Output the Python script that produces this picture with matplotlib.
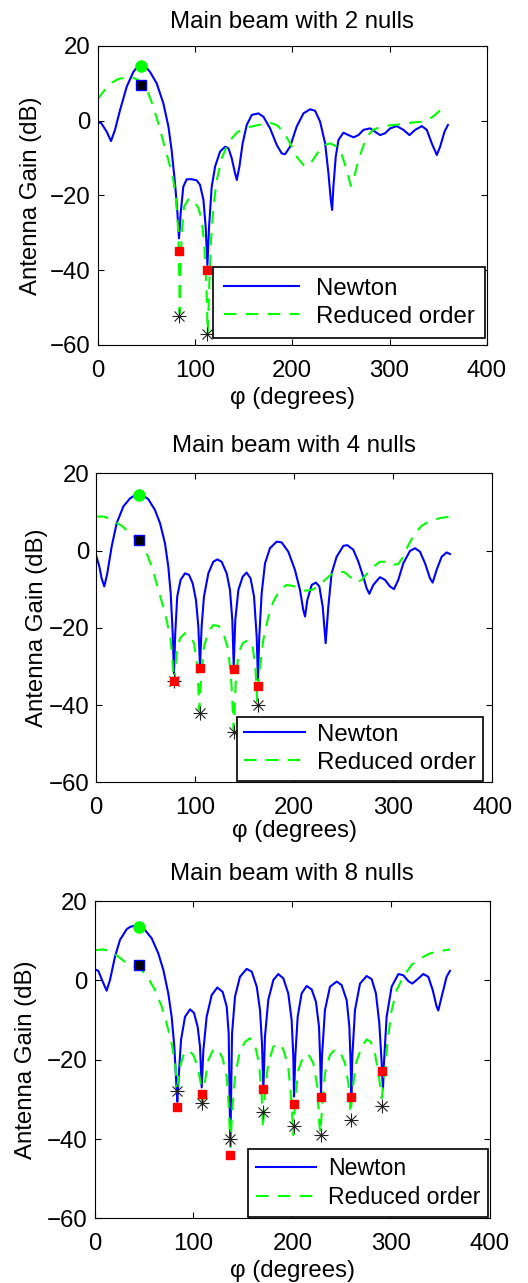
import matplotlib
matplotlib.use('Agg')
import matplotlib.pyplot as plt

plt.rcParams['font.family'] = ['Liberation Sans', 'DejaVu Sans']

# ---- panel 1: 2 nulls ----
newton1_phi = [0, 3.4, 9.3, 13.7, 17.8, 23, 29.8, 36.7, 40, 43.5, 47, 50, 53.8, 60.7, 67.5, 72.7, 76, 79.5, 82, 83.6,
               85.3, 88, 91.5, 96.7, 101.8, 105.2, 108.7, 111, 112.8, 114.5, 117.2, 120.7, 125.8, 131, 134.4,
               137.8, 141.2, 143, 145.7, 149, 153.2, 158.4, 165.2, 170.4, 177.2, 184, 189.2, 192.6, 197.8,
               204.6, 211.5, 218.3, 223.5, 228.6, 233.8, 237.2, 239.6, 241, 242.3, 244.7, 247.5, 252.6, 257.8,
               263, 268, 273.2, 280, 285.2, 290.3, 295.5, 300.6, 307.5, 314.3, 320.5, 326.3, 333.2, 338.3,
               343.4, 348.6, 352, 356.5, 360]
newton1_gain = [-0.6, -0.6, -3, -5.5, -2.5, 2.8, 9, 13, 14.1, 14.6, 14.65, 14.1, 13, 9.9, 4.6, -1.6, -7.9, -16.8, -24.8, -31.5,
                -24.8, -17.7, -15.7, -15.7, -16, -17.2, -21.2, -28.4, -38.6, -28.4, -17.7, -12.3, -8.3, -7, -7.4,
                -10.1, -14.1, -15.9, -12.3, -6.1, -1.2, 1.5, 1.9, 1, -2.1, -6.5, -8.8, -9, -7,
                -1.6, 1.9, 3, 2.6, -0.3, -6.1, -14.1, -21.2, -23.9, -17.7, -9.7, -5.2, -3.25, -3.9,
                -4.5, -3.9, -2.5, -2.1, -3, -3.9, -3.4, -2.1, -1.5, -2.5, -3.9, -2.5, -1.5, -2.5,
                -6.1, -9.2, -7, -3, -1.2]
reduced1_phi = [0, 5.8, 12.7, 21.3, 29.8, 36.7, 41.8, 47, 52, 57.2, 62.4, 67.5, 72.7, 77.8, 80.5, 83, 84, 84.3,
                84.8, 86.4, 88.8, 93.2, 98.4, 103.5, 107, 109.7, 112, 113.1, 114.8, 116.5, 119, 122.4, 127.5,
                132.6, 137.8, 143, 149.8, 160, 170.4, 177.2, 184, 191, 197.8, 204.6, 211.5, 215, 220, 227,
                233.8, 239, 245.8, 251, 256, 260.2, 263, 266.3, 271.5, 276.6, 283.5, 294, 304, 314.3, 324.6,
                335, 343.4, 348.6, 353.7, 357]
reduced1_gain = [5.7, 7.7, 9.9, 11.1, 11.5, 11.4, 10.8, 9.5, 7.3, 3.7, -0.8, -5.7, -10.6, -15.9, -21.2, -30.2, -43.5, -51.5,
                 -43.5, -30.2, -23, -21.1, -21.2, -23.4, -26.6, -33.7, -46.2, -56.9, -43.5, -31.9, -23, -15.9, -10.1,
                 -7, -4.8, -3.25, -2.1, -1.5, -0.9, -0.6, -1.2, -3, -6.1, -9.7, -11.9, -12.3, -11, -8.3,
                 -6.5, -6.1, -7, -9.2, -13.2, -17.5, -15.9, -12.3, -7.9, -4.3, -2.4, -1.5, -1.2, -0.9, -0.5,
                 -0.3, 0.8, 1.9, 3.2, 4.2]
beam1 = (45, 14.5)
beam1_red = (45, 9.4)
newton1_null_phi = [84, 112.8]
newton1_null_gain = [-34.9, -40]
reduced1_null_phi = [84, 112.8]
reduced1_null_gain = [-52.2, -57.1]

# ---- panel 2: 4 nulls ----
newton2_phi = [0, 3.4, 5.7, 8.4, 11.4, 15.8, 20.9, 27.6, 34.3, 38, 41, 43.5, 46, 49, 52.8, 59.5, 64.6, 69.6, 73, 75.4, 77.4,
               78.7, 80, 82, 85.4, 89.8, 93.9, 97.6, 100.9, 103.3, 105, 106.6, 109, 113.4, 118.4, 122.5, 126.8,
               131.9, 135.2, 137.6, 139, 140.6, 143.7, 148, 152, 156, 159.5, 162.2, 163.5, 164.8, 167.2, 170.6,
               175.6, 182.3, 187.4, 194.1, 200.8, 205.9, 209.2, 211, 213.3, 217.7, 222, 225.4, 228.8, 231.8,
               234.5, 237.8, 242.9, 249.6, 253.6, 259.7, 264.8, 269.8, 273.2, 275.9, 279.9, 286.6, 291.7,
               296.7, 300.8, 305.1, 310.2, 316.9, 322, 327, 332.1, 337.1, 339.8, 343.8, 348.9, 353.9, 357.3]
newton2_gain = [-1.1, -4.2, -7.2, -9.3, -5.9, 1, 7.1, 11.4, 13.5, 14.1, 14.4, 14.5, 14.4, 14, 13.3, 10.5, 7.1, 1.9, -4.2, -11.1, -21.4,
                -31.8, -21.4, -11.9, -7.6, -5.9, -6.3, -8.5, -12.8, -19.7, -30, -19.7, -11.9, -5.9, -2.9, -2.3, -2.9,
                -5.9, -10.2, -18, -30, -18, -10.2, -6.8, -5.7, -7.2, -11.9, -22.3, -33.5, -22.3, -11.1, -3.3,
                0.6, 2.3, 2.1, -0.3, -5, -10.2, -15.4, -17.1, -12.8, -8.9, -8.3, -9.3, -14.5, -24,
                -14.5, -5.9, -1.6, 1.2, 1.4, 0.2, -2.9, -6.8, -9.8, -11.2, -8.9, -6.9, -7.6,
                -9.3, -10, -7.6, -3.3, -0.1, 0.6, -0.3, -3.3, -7.2, -8.3, -5, -1.6, -0.5, -0.9]
reduced2_phi = [0, 7.4, 12.4, 19.2, 25.9, 32.6, 39.4, 46.1, 51.1, 56.2, 61.2, 66.3, 71.3, 75.4, 77.4, 79, 81.4,
                84.8, 89.8, 94.9, 98.9, 102.3, 104.3, 106.3, 109, 113.4, 118.4, 123.5, 128.5, 133.6, 136.9, 139,
                141, 143.7, 148, 153.7, 158.1, 160.8, 162.8, 164.8, 168.9, 174, 179, 185.7, 192.4, 199.2, 205.9,
                211, 217.7, 224.4, 231.1, 237.8, 244.6, 251.3, 258, 263.1, 268.1, 273.2, 279.9, 286.6, 293.4,
                300.1, 305.1, 310.2, 315.2, 322, 328.7, 337.1, 347.2, 357.3]
reduced2_gain = [8.8, 8.8, 8.4, 7.5, 6.4, 4.9, 3.4, 1.4, -0.7, -4.2, -8.5, -13.2, -18, -23.1, -29.2, -34.4, -26.6,
                 -22.7, -21.4, -21.9, -24, -30, -41.3, -31.8, -24.9, -21, -19.3, -19.5, -21.4, -25.7, -35.2, -46.4,
                 -34.4, -26.6, -24, -23.1, -24.9, -30, -39.1, -31.8, -23.1, -17.1, -13.2, -10.2, -8.9, -9.2, -9.8,
                 -10.4, -10.2, -9.3, -7.6, -6.1, -5.3, -5.7, -7.2, -8.3, -7.6, -6.1, -4.2, -2.9, -2.9,
                 -3.7, -3.5, -1.6, 1.4, 4.5, 6.4, 7.7, 8.4, 8.8]
beam2 = (43, 14.3)
beam2_red = (43, 2.7)
newton2_null_phi = [79, 105, 139.3, 163.8]
newton2_null_gain = [-33.8, -30.3, -30.7, -35]
reduced2_null_phi = [79, 105, 139.3, 163.8]
reduced2_null_gain = [-33.8, -42.1, -47, -40]

# ---- panel 3: 8 nulls ----
newton3_phi = [0, 3.7, 8.1, 12.1, 15.5, 20.6, 25.6, 32.4, 36, 39.1, 42, 45.2, 48, 50.9, 57.7, 64.4, 69.5, 74.5, 77.9, 80.6,
               82.6, 83.6, 85, 87.4, 91.4, 96.5, 100.5, 104.2, 106.6, 108.3, 110, 113.3, 118.4, 124.1, 129.5,
               133.6, 135.6, 137.3, 139, 142, 147, 153.8, 158.9, 164, 167.3, 169.3, 170.7, 172.3, 175.7, 180.8,
               185.8, 190.9, 195.9, 199.3, 201, 201.7, 203, 205.4, 209.4, 214.5, 219.6, 223.9, 227, 228.3, 229,
               230, 233, 238.1, 244.9, 249.9, 255, 257.7, 259, 259.7, 260.7, 263.4, 268.5, 275.2, 280.3, 284.6,
               288, 290.4, 291.7, 292.7, 295.4, 300.5, 307.3, 312.3, 317.4, 321.4, 325.8, 332.5, 337.6, 342,
               346, 347.7, 351.1, 356.1, 359.5]
newton3_gain = [2.8, 2.4, -0.3, -2.6, 0.1, 6, 10.2, 12.9, 13.5, 13.7, 13.75, 13.5, 13.2, 12.7, 10.6, 6.8, 2.6, -3.3, -9.2, -16.7,
                -26, -30.6, -24.3, -15, -9.2, -7.3, -8.2, -11.7, -16.7, -27, -17.6, -9.2, -3.7, -1.8, -2.9,
                -6.6, -13.4, -41.9, -13.4, -4.1, 0.9, 2.9, 2.2, -1.6, -7.5, -15.9, -27.6, -14.2, -4.9, 0.1,
                1.6, 0.5, -3.3, -10, -19.2, -29.3, -19.2, -9.2, -3.3, -1.4, -2.3, -5.4, -11.7, -20.9, -28.5,
                -19.2, -7.5, -1.6, -0.3, -1.2, -5, -11.7, -20.9, -28.5, -19.2, -7.5, -0.8, 1.1, 0.3, -3.3,
                -10.8, -20.9, -27.5, -20.9, -9.2, -1.6, 1.6, 1.3, -0.2, -0.8, 0.1, 1.6, 0.9, -2.4,
                -6.6, -7.6, -4.1, 0.9, 2.4]
reduced3_phi = [0, 8.8, 15.5, 23.9, 32.4, 40.8, 47.6, 54.3, 61, 67.8, 72.8, 77.9, 81.3, 83.6, 86.3, 90.4, 94.8,
                99.8, 104.2, 107.3, 108.9, 111.3, 115, 120.1, 125.1, 129.5, 133.6, 135.9, 137.3, 139, 142, 146.4,
                152.1, 157.2, 162.2, 166.3, 169, 170.3, 172.3, 175.7, 180.8, 185.8, 190.9, 195.9, 199.3, 201,
                203, 206.1, 211.1, 216.2, 221.2, 225.3, 227.3, 228.3, 230, 233, 238.1, 243.2, 248.2, 253.3,
                256.7, 259, 261, 264.4, 270.2, 275.2, 279.3, 283.6, 287.7, 290.4, 292.7, 296.1, 300.5, 305.6,
                312.3, 320.7, 329.2, 339.3, 349.4, 359.5]
reduced3_gain = [7.6, 7.8, 7.4, 6, 4.3, 3.4, 2.6, 0.5, -2.4, -6.6, -10.8, -15.9, -20.9, -26.8, -21.8, -18.4, -17.6,
                 -18.8, -21.8, -26, -32.7, -26, -20.1, -17.4, -17.4, -19.7, -24.3, -32.7, -41.9, -33.5, -24.3, -18.4,
                 -15.5, -14.6, -16.3, -20.9, -29.3, -37.3, -27.6, -20.9, -16.7, -15.9, -17.4, -21.8, -31, -39,
                 -29.3, -22.6, -19.2, -18.6, -20.9, -26.8, -36, -38.5, -32.7, -23.4, -18.8, -17.4, -18, -20.9,
                 -26, -33.5, -27.6, -20.9, -16.7, -14.9, -15.5, -18.4, -24.3, -29.7, -25.1, -15.9, -7.5, -2.4,
                 0.9, 3.9, 5.5, 6.8, 7.4, 7.8]
beam3 = (45.2, 13.5)
beam3_red = (44.5, 3.8)
newton3_null_phi = [83.6, 108.6, 137.3, 170.7, 201.3, 228.7, 259.4, 290.4]
newton3_null_gain = [-31.9, -28.6, -44, -27.3, -31.2, -29.4, -29.4, -22.8]
reduced3_null_phi = [83.6, 108.6, 137.3, 170.7, 201.3, 228.7, 259.4, 290.4]
reduced3_null_gain = [-28, -30.8, -40.1, -33.3, -36.6, -39, -35.2, -31.7]

panels = [
    ('Main beam with 2 nulls', newton1_phi, newton1_gain, reduced1_phi, reduced1_gain, beam1, beam1_red,
     newton1_null_phi, newton1_null_gain, reduced1_null_phi, reduced1_null_gain),
    ('Main beam with 4 nulls', newton2_phi, newton2_gain, reduced2_phi, reduced2_gain, beam2, beam2_red,
     newton2_null_phi, newton2_null_gain, reduced2_null_phi, reduced2_null_gain),
    ('Main beam with 8 nulls', newton3_phi, newton3_gain, reduced3_phi, reduced3_gain, beam3, beam3_red,
     newton3_null_phi, newton3_null_gain, reduced3_null_phi, reduced3_null_gain),
]

# axes rectangles in figure fractions
rects = [[0.185, 0.7311, 0.737, 0.2333],
         [0.1818, 0.3903, 0.7506, 0.2408],
         [0.1793, 0.0504, 0.7487, 0.2473]]
# per panel: legend anchor, handle length, border pad, legend font, title pad, label pads
leg_anchor = [(0.996, 0.022), (0.977, 0.004), (0.996, 0.005)]
leg_handle = [3.1, 2.55, 2.6]
leg_textpad = [0.7, 0.5, 0.5]
leg_pad = [0.45, 0.3, 0.35]
leg_fs = [17.3, 17.3, 16.6]
title_pad = [13, 15, 15]
xpad = [4, 0.5, 4]
ypad = [5.5, 0.5, 7.5]

fs = 17.3
fig = plt.figure(figsize=(5.28, 12.83), dpi=100)

for i, p in enumerate(panels):
    title, nphi, ngain, rphi, rgain, beam, beam_red, nnp, nng, rnp, rng = p
    ax = fig.add_axes(rects[i])
    ax.plot(nphi, ngain, color='#0000ff', lw=1.5, label='Newton')
    ax.plot(rphi, rgain, color='#00ff00', lw=1.5, ls=(0, (6, 4.5)), label='Reduced order')
    # matlab-style asterisk: plus + cross
    ax.plot(rnp, rng, ls='none', marker='+', color='#222222', ms=10, markeredgewidth=0.8)
    ax.plot(rnp, rng, ls='none', marker='x', color='#222222', ms=7, markeredgewidth=0.8)
    ax.plot(nnp, nng, ls='none', marker='s', color='#ff0000', ms=5.5)
    ax.plot([beam_red[0]], [beam_red[1]], ls='none', marker='s', markerfacecolor='k',
            markeredgecolor='#0000ff', ms=6.5, markeredgewidth=1)
    ax.plot([beam[0]], [beam[1]], ls='none', marker='o', color='#00ff00', ms=8)

    ax.set_xlim(0, 400)
    ax.set_ylim(-60, 20)
    ax.set_xticks([0, 100, 200, 300, 400])
    ax.set_yticks([-60, -40, -20, 0, 20])
    ax.tick_params(direction='in', top=True, right=True, labelsize=fs, length=4, width=0.8)
    ax.tick_params(axis='x', pad=10.5)
    ax.tick_params(axis='y', pad=5)
    ax.set_title(title, fontsize=fs, pad=title_pad[i])
    ax.set_xlabel('\u03c6 (degrees)', fontsize=fs, labelpad=xpad[i])
    ax.set_ylabel('Antenna Gain (dB)', fontsize=fs, labelpad=ypad[i])
    leg = ax.legend(loc='lower right', bbox_to_anchor=leg_anchor[i], borderaxespad=0,
                    fontsize=leg_fs[i], fancybox=False, edgecolor='k', framealpha=1,
                    handlelength=leg_handle[i], borderpad=leg_pad[i], labelspacing=0.25,
                    handletextpad=leg_textpad[i])
    leg.get_frame().set_linewidth(1.2)

fig.savefig('out.png', dpi=100)
